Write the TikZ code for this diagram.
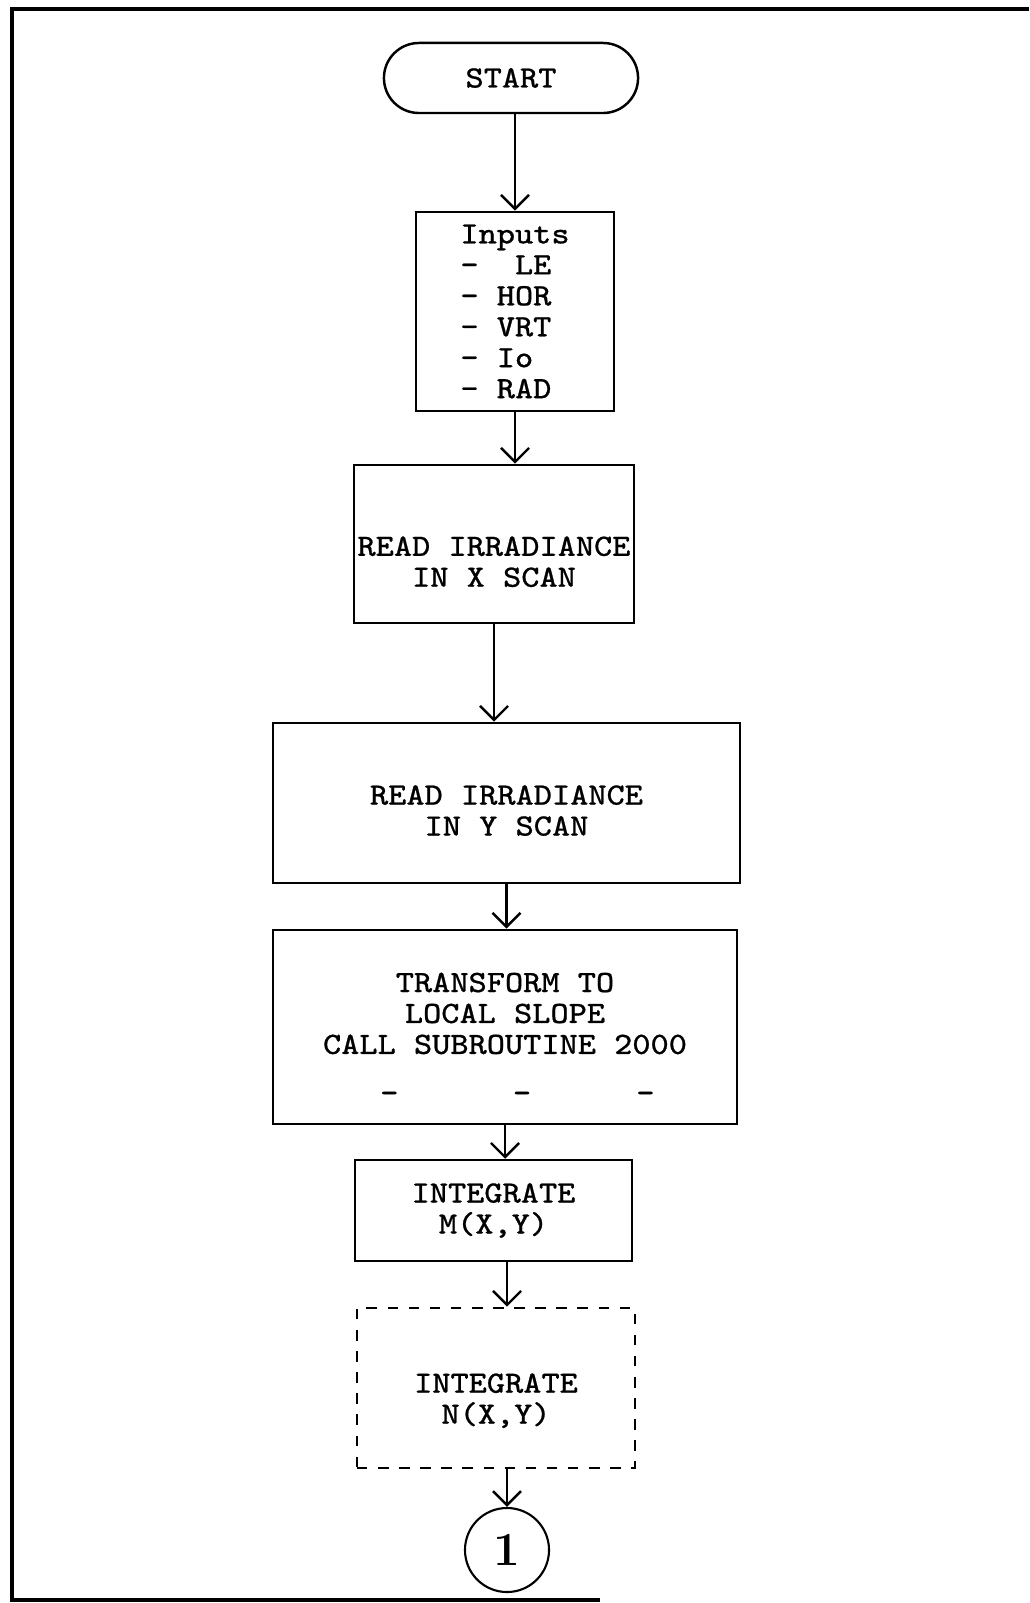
\documentclass[tikz,border=0pt]{standalone}
\usepackage{fontspec}
\newfontfamily\typewr{Latin Modern Mono}[FakeStretch=1.12, FakeBold=0.7]
\usetikzlibrary{arrows.meta,shapes.misc}
\tikzset{
  flowbox/.style={draw, line width=0.7pt, rectangle, inner sep=0pt, align=center,
    font=\typewr\fontsize{8.8}{8.8}\selectfont},
  termbox/.style={flowbox, rounded rectangle},
  connbox/.style={draw, circle, line width=0.6pt, inner sep=0pt, minimum size=0.84cm,
    font=\fontsize{13.5}{14}\selectfont\bfseries},
  arr/.style={-{Straight Barb[length=4pt,width=8pt]}, line width=0.7pt},
  frame/.style={line width=1pt}
}
\begin{document}
\begin{tikzpicture}[x=0.01cm, y=-0.01cm]
\useasboundingbox (0,0) rectangle (1029,1603);
% outer frame, right side runs off the page
\draw[frame] (1029,9) -- (12,9) -- (12,1600) -- (600,1600);
% flow blocks
\node[termbox, minimum width=2.54cm, minimum height=0.70cm] (start) at (511,78) {START};
\node[flowbox, minimum width=1.98cm, minimum height=1.99cm, align=left] (inputs) at (515,311.5)
  {Inputs\\-~~LE\\-~HOR\\-~VRT\\-~Io\\-~RAD};
\node[flowbox, minimum width=2.80cm, minimum height=1.58cm] (readx) at (494,544)
  {\mbox{}\\[6.8pt]READ IRRADIANCE\\IN X SCAN};
\node[flowbox, minimum width=4.67cm, minimum height=1.60cm] (ready) at (506.5,803)
  {\mbox{}\\[1pt]READ IRRADIANCE\\IN Y SCAN};
\node[flowbox, minimum width=4.64cm, minimum height=1.94cm] (transf) at (505,1027)
  {\mbox{}\\[2.7pt]TRANSFORM TO\\LOCAL SLOPE\\CALL SUBROUTINE 2000\\[5pt]\hspace*{0.8em}-\hspace{3.7em}-\hspace{3.4em}-};
\node[flowbox, minimum width=2.77cm, minimum height=1.01cm] (integm) at (493.5,1210.5)
  {INTEGRATE\\M(X,Y)};
\node[flowbox, dashed, minimum width=2.78cm, minimum height=1.60cm] (integn) at (496,1388)
  {\mbox{}\\[3.9pt]INTEGRATE\\N(X,Y)};
\node[connbox] (conn) at (507,1550) {1};
% connectors
\draw[arr] (start.south -| inputs.north) -- (inputs.north);
\draw[arr] (inputs.south) -- (inputs.south |- readx.north);
\draw[arr] (readx.south) -- (readx.south |- ready.north);
\draw[arr] (ready.south) -- (ready.south |- transf.north);
\draw[arr] (transf.south) -- (transf.south |- integm.north);
\draw[arr] (integm.south -| conn.north) -- (integn.north -| conn.north);
\draw[arr] (integn.south -| conn.north) -- (conn.north);
\end{tikzpicture}
\end{document}
